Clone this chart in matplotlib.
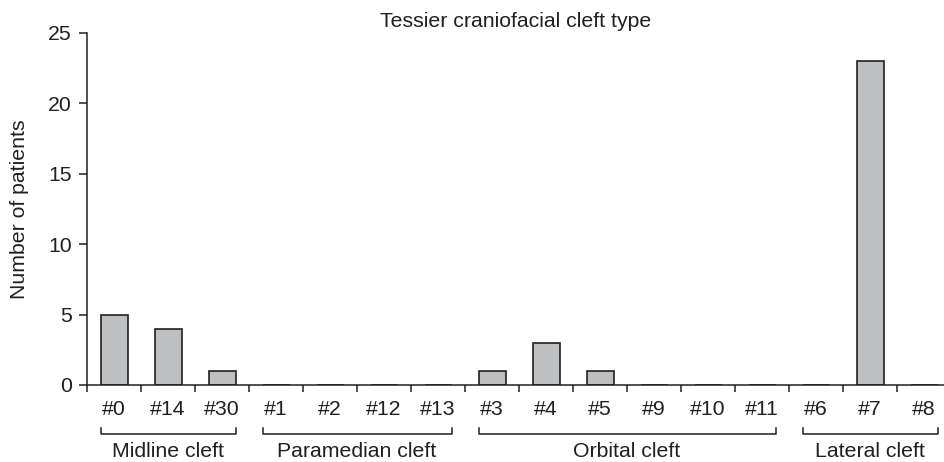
import matplotlib.pyplot as plt
from matplotlib.transforms import blended_transform_factory

plt.rcParams['font.family'] = ['Liberation Sans', 'DejaVu Sans']

# Data
cleft_types = ['#0', '#14', '#30', '#1', '#2', '#12', '#13', '#3', '#4',
               '#5', '#9', '#10', '#11', '#6', '#7', '#8']
patients = [5, 4, 1, 0, 0, 0, 0, 1, 3, 1, 0, 0, 0, 0, 23, 0]
groups = ['Midline cleft', 'Paramedian cleft', 'Orbital cleft', 'Lateral cleft']
group_sizes = [3, 4, 6, 3]

ink = '#231f20'
fs = 15.3

fig = plt.figure(figsize=(9.44, 4.62), dpi=100)
ax = fig.add_axes([0.0922, 0.1667, 0.9078, 0.7619])

x = list(range(len(cleft_types)))
ax.bar(x, patients, width=0.5, color='#bebfc1', edgecolor=ink, linewidth=1.2)

ax.set_xlim(-0.5, 15.37)
ax.set_ylim(0, 25)
ax.set_yticks([0, 5, 10, 15, 20, 25])

# ticks at slot boundaries, labels at slot centres
ax.set_xticks([i - 0.5 for i in x])
ax.set_xticklabels([])
ax.set_xticks(x, minor=True)
ax.set_xticklabels(cleft_types, minor=True)
ax.tick_params(axis='x', which='major', length=5, width=1.1, color=ink, direction='out')
ax.tick_params(axis='x', which='minor', length=0, pad=11, labelsize=fs, labelcolor=ink)
ax.tick_params(axis='y', length=6, width=1.1, color=ink, pad=5, labelsize=fs, labelcolor=ink)

for s in ['top', 'right']:
    ax.spines[s].set_visible(False)
for s in ['left', 'bottom']:
    ax.spines[s].set_linewidth(1.1)
    ax.spines[s].set_color(ink)

ax.set_ylabel('Number of patients', fontsize=fs, color=ink)
ax.yaxis.set_label_coords(-0.068, 0.5)

ax.text(0.5, 1.032, 'Tessier craniofacial cleft type', transform=ax.transAxes,
        ha='center', va='center', fontsize=fs, color=ink)

# group brackets
tr = blended_transform_factory(ax.transData, ax.transAxes)
start = 0
for name, n in zip(groups, group_sizes):
    x0 = start - 0.25
    x1 = start + n - 1 + 0.25
    ax.plot([x0, x0, x1, x1], [-0.122, -0.139, -0.139, -0.122], transform=tr,
            color=ink, linewidth=1.1, clip_on=False)
    ax.text((x0 + x1) / 2, -0.217, name, transform=tr, ha='center', va='bottom',
            fontsize=fs, color=ink)
    start += n

fig.savefig('out.png', dpi=100)
